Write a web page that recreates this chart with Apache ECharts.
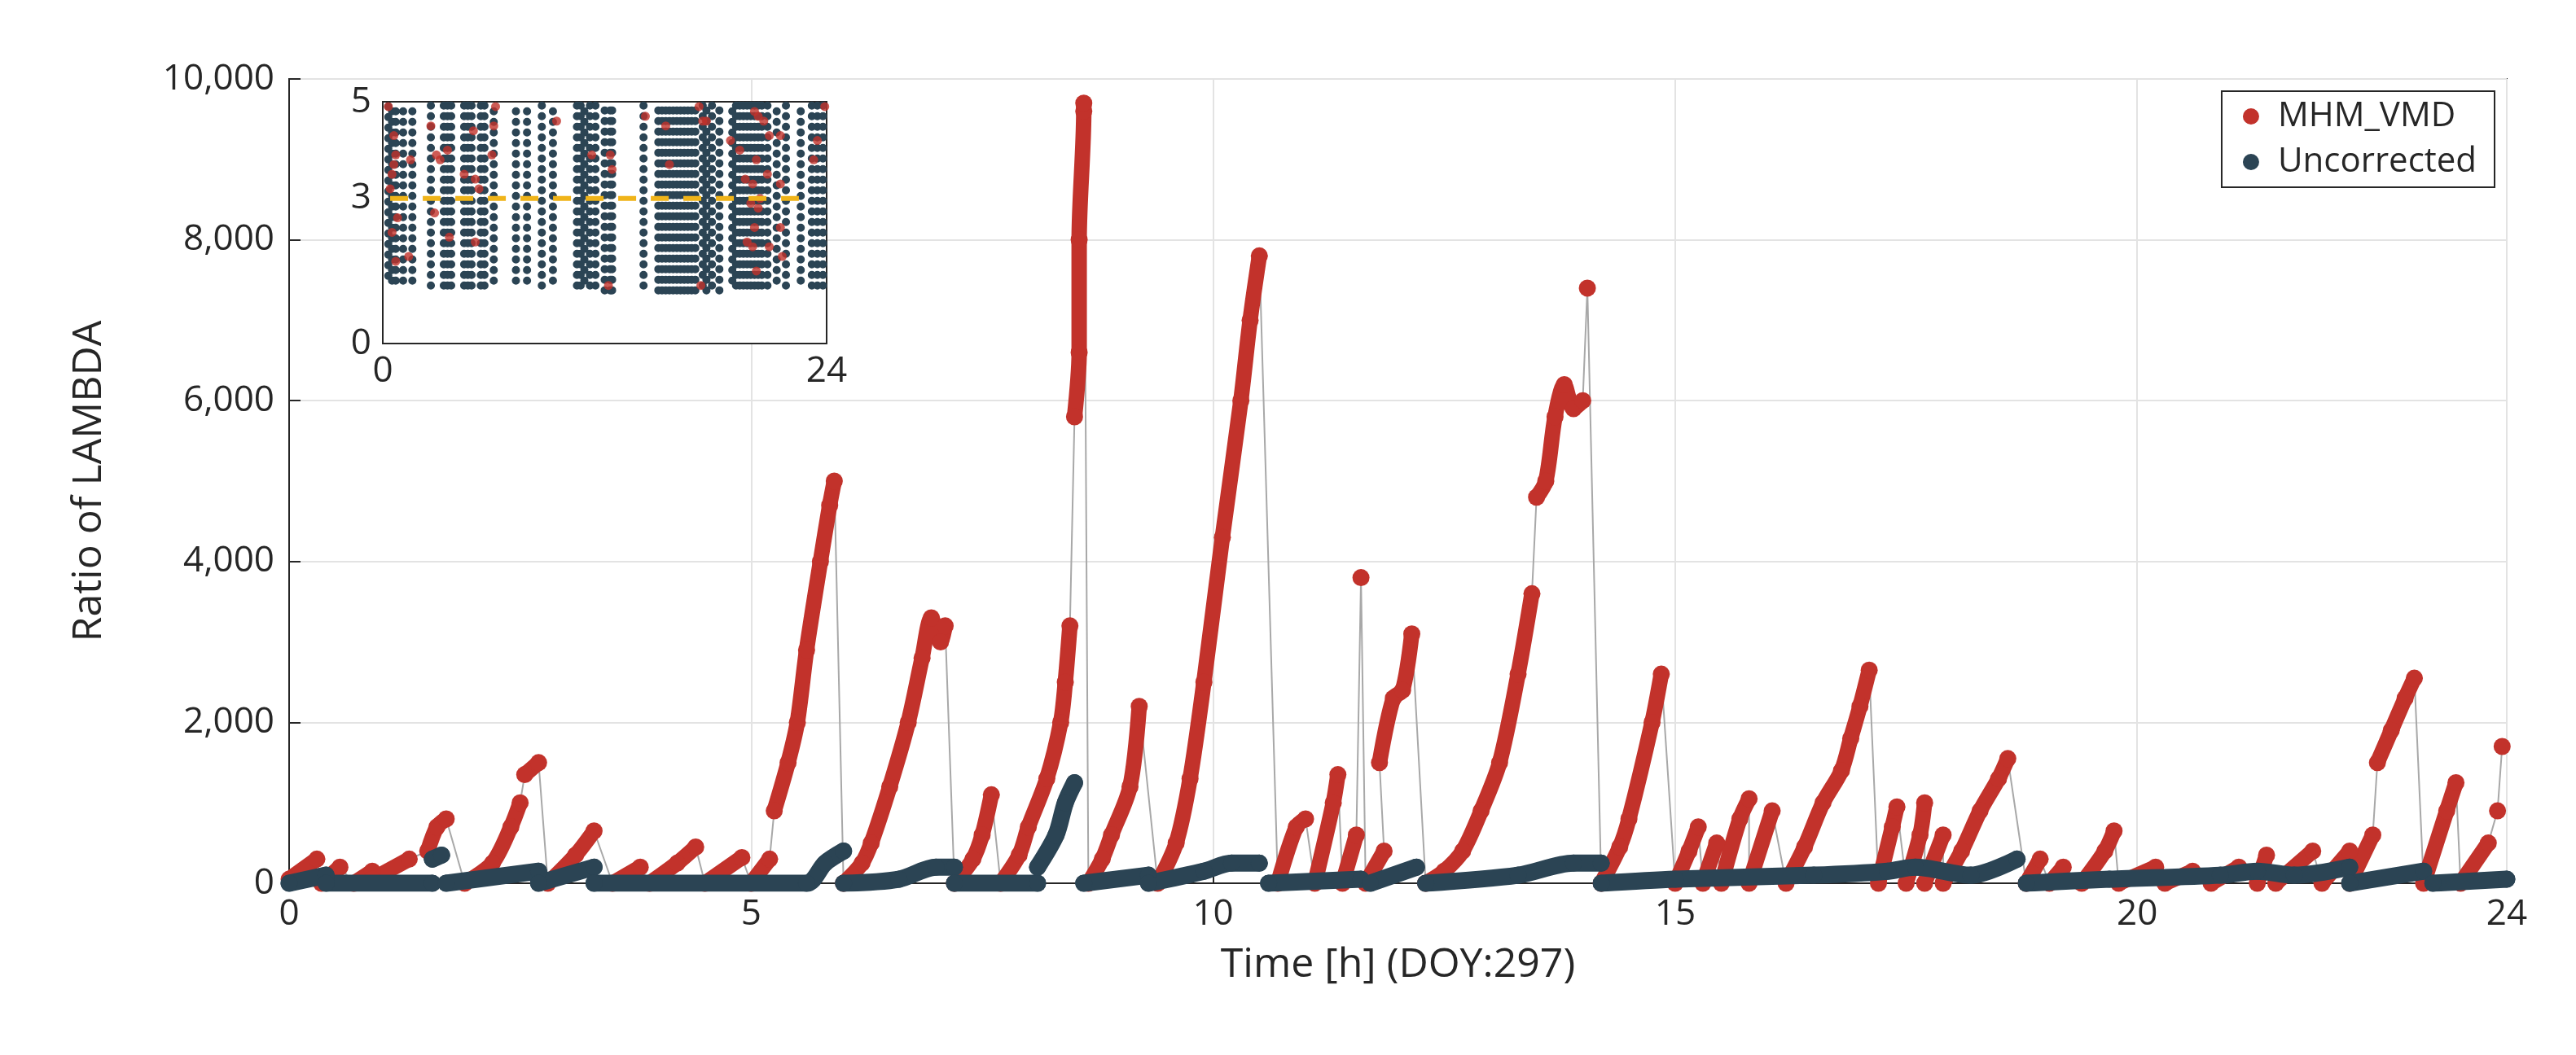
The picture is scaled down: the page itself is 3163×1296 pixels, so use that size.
<!DOCTYPE html>
<html>
<head>
<meta charset="utf-8">
<script src="https://cdn.jsdelivr.net/npm/echarts@6/dist/echarts.min.js"></script>
<style>html,body{margin:0;padding:0;background:#fff}#chart{width:3163px;height:1296px}</style>
</head>
<body>
<div id="chart"></div>
<script>
// ramps, one list per ramp: [hour, ratio]
const redRamps = [
  [[0.0, 50], [0.3, 300]], [[0.35, 0], [0.55, 200]], [[0.7, 0], [0.9, 150]],
  [[0.9, 50], [1.3, 300]], [[1.5, 400], [1.6, 700], [1.7, 800]],
  [[1.9, 0], [2.2, 250], [2.4, 700], [2.5, 1000]], [[2.55, 1350], [2.7, 1500]],
  [[2.8, 0], [3.1, 350], [3.3, 650]], [[3.5, 0], [3.8, 200]], [[3.9, 0], [4.2, 250], [4.4, 450]],
  [[4.5, 0], [4.9, 320]], [[5.0, 0], [5.2, 300]],
  [[5.25, 900], [5.4, 1500], [5.5, 2000], [5.6, 2900], [5.75, 4000], [5.85, 4700], [5.9, 5000]],
  [[6.0, 0], [6.2, 250], [6.3, 500], [6.5, 1200], [6.7, 2000], [6.85, 2800], [6.95, 3300], [7.05, 3000], [7.1, 3200]],
  [[7.2, 0], [7.4, 300], [7.5, 600], [7.6, 1100]],
  [[7.7, 0], [7.9, 350], [8.0, 700], [8.2, 1300], [8.35, 2000], [8.4, 2500], [8.45, 3200]],
  [[8.5, 5800], [8.55, 6600], [8.55, 8000], [8.6, 9600], [8.6, 9700]],
  [[8.65, 0], [8.8, 300], [8.9, 600], [9.1, 1200], [9.2, 2200]],
  [[9.4, 0], [9.6, 500], [9.75, 1300], [9.9, 2500], [10.1, 4300], [10.3, 6000], [10.4, 7000], [10.5, 7800]],
  [[10.7, 0], [10.9, 700], [11.0, 800]], [[11.1, 0], [11.3, 1000], [11.35, 1350]],
  [[11.4, 0], [11.55, 600]], [[11.6, 3800]], [[11.65, 0], [11.85, 400]],
  [[11.8, 1500], [11.95, 2300], [12.05, 2400], [12.15, 3100]],
  [[12.3, 0], [12.5, 150], [12.7, 400], [12.9, 900], [13.1, 1500], [13.3, 2600], [13.45, 3600]],
  [[13.5, 4800], [13.6, 5000], [13.7, 5800], [13.8, 6200], [13.9, 5900], [14.0, 6000]],
  [[14.05, 7400]],
  [[14.2, 0], [14.4, 450], [14.5, 800], [14.75, 2000], [14.85, 2600]],
  [[15.0, 0], [15.15, 400], [15.25, 700]], [[15.3, 0], [15.45, 500]],
  [[15.5, 0], [15.7, 800], [15.8, 1050]], [[15.8, 0], [16.05, 900]],
  [[16.2, 0], [16.4, 450], [16.6, 1000], [16.8, 1400], [16.9, 1800], [17.0, 2200], [17.1, 2650]],
  [[17.2, 0], [17.35, 700], [17.4, 950]], [[17.5, 0], [17.65, 600], [17.7, 1000]],
  [[17.7, 0], [17.9, 600]], [[17.9, 0], [18.1, 400], [18.3, 900], [18.5, 1300], [18.6, 1550]],
  [[18.8, 0], [18.95, 300]], [[19.05, 0], [19.2, 200]],
  [[19.4, 0], [19.65, 400], [19.75, 650]], [[19.8, 0], [20.2, 200]],
  [[20.3, 0], [20.6, 150]], [[20.8, 0], [21.1, 200]], [[21.3, 0], [21.4, 350]],
  [[21.5, 0], [21.9, 400]], [[22.0, 0], [22.3, 400]], [[22.3, 0], [22.55, 600]],
  [[22.6, 1500], [22.75, 1900], [22.9, 2300], [23.0, 2550]],
  [[23.1, 0], [23.35, 900], [23.45, 1250]], [[23.5, 0], [23.8, 500]],
  [[23.9, 900]], [[23.95, 1700]]
];
const darkRamps = [
  [[0.0, 0], [0.4, 100]], [[0.4, 0], [1.55, 0]], [[1.55, 300], [1.65, 350]],
  [[1.7, 0], [2.7, 150]], [[2.7, 0], [3.3, 200]], [[3.3, 0], [5.6, 0], [5.8, 250], [6.0, 400]],
  [[6.0, 0], [6.6, 50], [7.0, 200], [7.2, 200]], [[7.2, 0], [8.1, 0]],
  [[8.1, 200], [8.3, 600], [8.4, 1000], [8.5, 1250]],
  [[8.6, 0], [9.3, 100]], [[9.3, 0], [9.9, 150], [10.2, 250], [10.5, 250]],
  [[10.6, 0], [11.6, 50]], [[11.7, 0], [12.2, 200]],
  [[12.3, 0], [13.3, 100], [13.9, 250], [14.2, 250]],
  [[14.2, 0], [15.0, 50], [16.5, 100], [17.3, 150], [17.6, 200], [18.2, 100], [18.7, 300]],
  [[18.8, 0], [19.7, 50], [20.9, 100], [21.3, 150], [21.7, 100], [22.3, 200]],
  [[22.3, 0], [23.1, 150]], [[23.2, 0], [24.0, 50]]
];
// inset: columns of uncorrected points [hour, lowest ratio], reaching up to 5
const insetColumns = [
  [0.3, 1.4], [0.5, 1.3], [0.7, 1.3], [1.1, 1.3], [1.6, 1.3], [2.6, 1.2], [3.3, 1.2], [3.5, 1.2],
  [3.7, 1.2], [4.4, 1.2], [4.6, 1.2], [4.8, 1.2], [5.3, 1.2], [5.5, 1.2], [6.0, 1.3], [7.2, 1.3],
  [7.8, 1.3], [8.6, 1.2], [9.2, 1.3], [10.5, 1.2], [10.7, 1.2], [10.9, 1.3], [11.2, 1.2], [11.5, 1.2],
  [12.0, 1.1], [12.3, 1.1], [12.4, 1.1], [14.1, 1.2], [14.9, 1.1], [15.1, 1.1], [15.3, 1.1],
  [15.5, 1.1], [15.7, 1.1], [15.9, 1.1], [16.1, 1.1], [16.3, 1.1], [16.5, 1.1], [16.7, 1.1],
  [16.9, 1.1], [17.3, 1.2], [17.5, 1.1], [17.8, 1.2], [18.2, 1.1], [18.9, 1.3], [19.1, 1.2],
  [19.3, 1.2], [19.5, 1.2], [19.7, 1.2], [19.9, 1.2], [20.1, 1.2], [20.3, 1.2], [20.5, 1.2],
  [20.8, 1.2], [21.3, 1.3], [21.8, 1.2], [22.6, 1.3], [23.2, 1.2], [23.5, 1.2], [23.8, 1.2]
];
const insetRed = [
  [0.3, 4.9], [0.6, 4.3], [0.7, 3.9], [0.5, 3.5], [0.6, 3.7], [0.4, 3.2], [0.8, 2.6], [0.7, 1.7],
  [0.5, 2.3], [1.5, 3.8], [1.4, 1.8], [2.6, 4.5], [2.8, 2.7], [2.9, 3.9], [3.1, 3.8], [3.5, 4.0],
  [3.6, 2.2], [4.4, 3.5], [4.9, 4.4], [5.0, 3.4], [5.2, 3.2], [5.0, 2.1], [6.1, 4.9], [6.0, 4.5],
  [5.9, 3.9], [9.4, 4.6], [11.3, 3.9], [12.3, 3.9], [12.4, 3.6], [12.2, 1.2], [14.2, 4.7],
  [15.3, 4.5], [15.5, 3.7], [17.1, 4.9], [17.3, 4.6], [17.5, 4.6], [17.2, 1.2], [18.8, 4.2],
  [19.3, 4.0], [19.6, 3.4], [19.7, 2.1], [20.1, 4.8], [20.3, 4.7], [20.2, 3.8], [20.0, 3.3],
  [20.3, 2.8], [20.1, 2.4], [20.0, 2.0], [20.2, 1.5], [20.6, 4.6], [20.9, 4.3], [20.8, 3.5],
  [20.9, 2.0], [21.5, 4.3], [21.5, 3.3], [21.5, 2.4], [21.6, 1.8], [23.3, 3.8], [23.5, 4.2],
  [23.9, 4.9], [20.4, 3.0], [19.9, 2.9]
];

const RED = "#c2322b";
const DARK = "#2b4454";
const FONT = "Open Sans";

// join ramps with breaks so each ramp is drawn separately
const withBreaks = (ramps) => {
  var out = [];
  ramps.forEach((r) => {
    r.forEach((p) => out.push(p));
    out.push(null);
  });
  return out;
};
const allPoints = (ramps) => [].concat(...ramps);
var columnData = [];
insetColumns.forEach((c) => {
  columnData.push([c[0], c[1]], [c[0], 5], null);
});

var myChart = echarts.init(document.getElementById("chart"));
var axisText = { color: "#262626", fontSize: 44, fontFamily: FONT };
var option = {
  animation: false,
  backgroundColor: "#fff",
  grid: [
    { left: 355, right: 85, top: 97, bottom: 211, show: true, borderColor: "#262626", borderWidth: 2 },
    { left: 470, top: 125, width: 545, height: 297, show: true, borderColor: "#262626", borderWidth: 2, backgroundColor: "#fff", z: 10 }
  ],
  legend: {
    data: ["MHM_VMD", "Uncorrected"],
    orient: "vertical",
    right: 100,
    top: 112,
    itemWidth: 20,
    itemHeight: 20,
    itemGap: 14,
    icon: "circle",
    padding: [10, 22, 10, 26],
    borderColor: "#262626",
    borderWidth: 2,
    backgroundColor: "#fff",
    textStyle: { color: "#262626", fontSize: 42, fontFamily: FONT, padding: [0, 0, 0, 18] }
  },
  xAxis: [
    {
      gridIndex: 0, type: "value", min: 0, max: 24, interval: 5,
      name: "Time [h] (DOY:297)", nameLocation: "middle", nameGap: 76,
      nameTextStyle: { color: "#262626", fontSize: 50, fontFamily: FONT },
      axisLine: { lineStyle: { color: "#262626", width: 2 } },
      axisTick: { inside: true, length: 14, lineStyle: { color: "#262626", width: 2 } },
      axisLabel: Object.assign({ margin: 16 }, axisText),
      splitLine: { show: true, lineStyle: { color: "#e3e3e3", width: 2 } }
    },
    {
      gridIndex: 1, type: "value", min: 0, max: 24, interval: 5,
      axisLine: { lineStyle: { color: "#262626", width: 2 } },
      axisTick: { show: false },
      axisLabel: Object.assign({ margin: 12, formatter: (v) => (v === 0 || v === 24 ? String(v) : "") }, axisText),
      splitLine: { show: true, lineStyle: { color: "#dcdcdc", width: 1.5 } }
    }
  ],
  yAxis: [
    {
      gridIndex: 0, type: "value", min: 0, max: 10000, interval: 2000,
      name: "Ratio of LAMBDA", nameLocation: "middle", nameGap: 220,
      nameTextStyle: { color: "#262626", fontSize: 50, fontFamily: FONT },
      axisLine: { lineStyle: { color: "#262626", width: 2 } },
      axisTick: { inside: true, length: 14, lineStyle: { color: "#262626", width: 2 } },
      axisLabel: Object.assign({ margin: 18, formatter: (v) => v.toLocaleString("en-US") }, axisText),
      splitLine: { show: true, lineStyle: { color: "#e3e3e3", width: 2 } }
    },
    {
      gridIndex: 1, type: "value", min: 0, max: 5, interval: 1,
      axisLine: { lineStyle: { color: "#262626", width: 2 } },
      axisTick: { show: false },
      axisLabel: Object.assign({ margin: 14, formatter: (v) => (v === 0 || v === 3 || v === 5 ? String(v) : "") }, axisText),
      splitLine: { show: false }
    }
  ],
  series: [
    {
      name: "link", type: "line", xAxisIndex: 0, yAxisIndex: 0,
      data: allPoints(redRamps), showSymbol: false, z: 1,
      lineStyle: { color: "#a8a8a8", width: 2 }
    },
    {
      name: "MHM_VMD", type: "line", xAxisIndex: 0, yAxisIndex: 0,
      data: withBreaks(redRamps), connectNulls: false, z: 2, smooth: 0.3,
      symbol: "circle", symbolSize: 21, showSymbol: true,
      itemStyle: { color: RED },
      lineStyle: { color: RED, width: 19, cap: "round", join: "round" }
    },
    {
      name: "Uncorrected", type: "line", xAxisIndex: 0, yAxisIndex: 0,
      data: withBreaks(darkRamps), connectNulls: false, z: 3, smooth: 0.3,
      symbol: "circle", symbolSize: 21, showSymbol: true,
      itemStyle: { color: DARK },
      lineStyle: { color: DARK, width: 21, cap: "round", join: "round" }
    },
    {
      name: "insetDark", type: "line", xAxisIndex: 1, yAxisIndex: 1,
      data: columnData, connectNulls: false, showSymbol: false, z: 11,
      lineStyle: { color: DARK, width: 10, cap: "round", type: [0, 13] }
    },
    {
      name: "insetRed", type: "scatter", xAxisIndex: 1, yAxisIndex: 1,
      data: insetRed, symbolSize: 11, z: 12,
      itemStyle: { color: RED }
    },
    {
      name: "threshold", type: "line", xAxisIndex: 1, yAxisIndex: 1,
      data: [[0.4, 3], [22.5, 3]], showSymbol: false, z: 13,
      lineStyle: { color: "#f0b419", width: 6, type: [22, 18] }
    }
  ]
};
myChart.setOption(option);
</script>
</body>
</html>
